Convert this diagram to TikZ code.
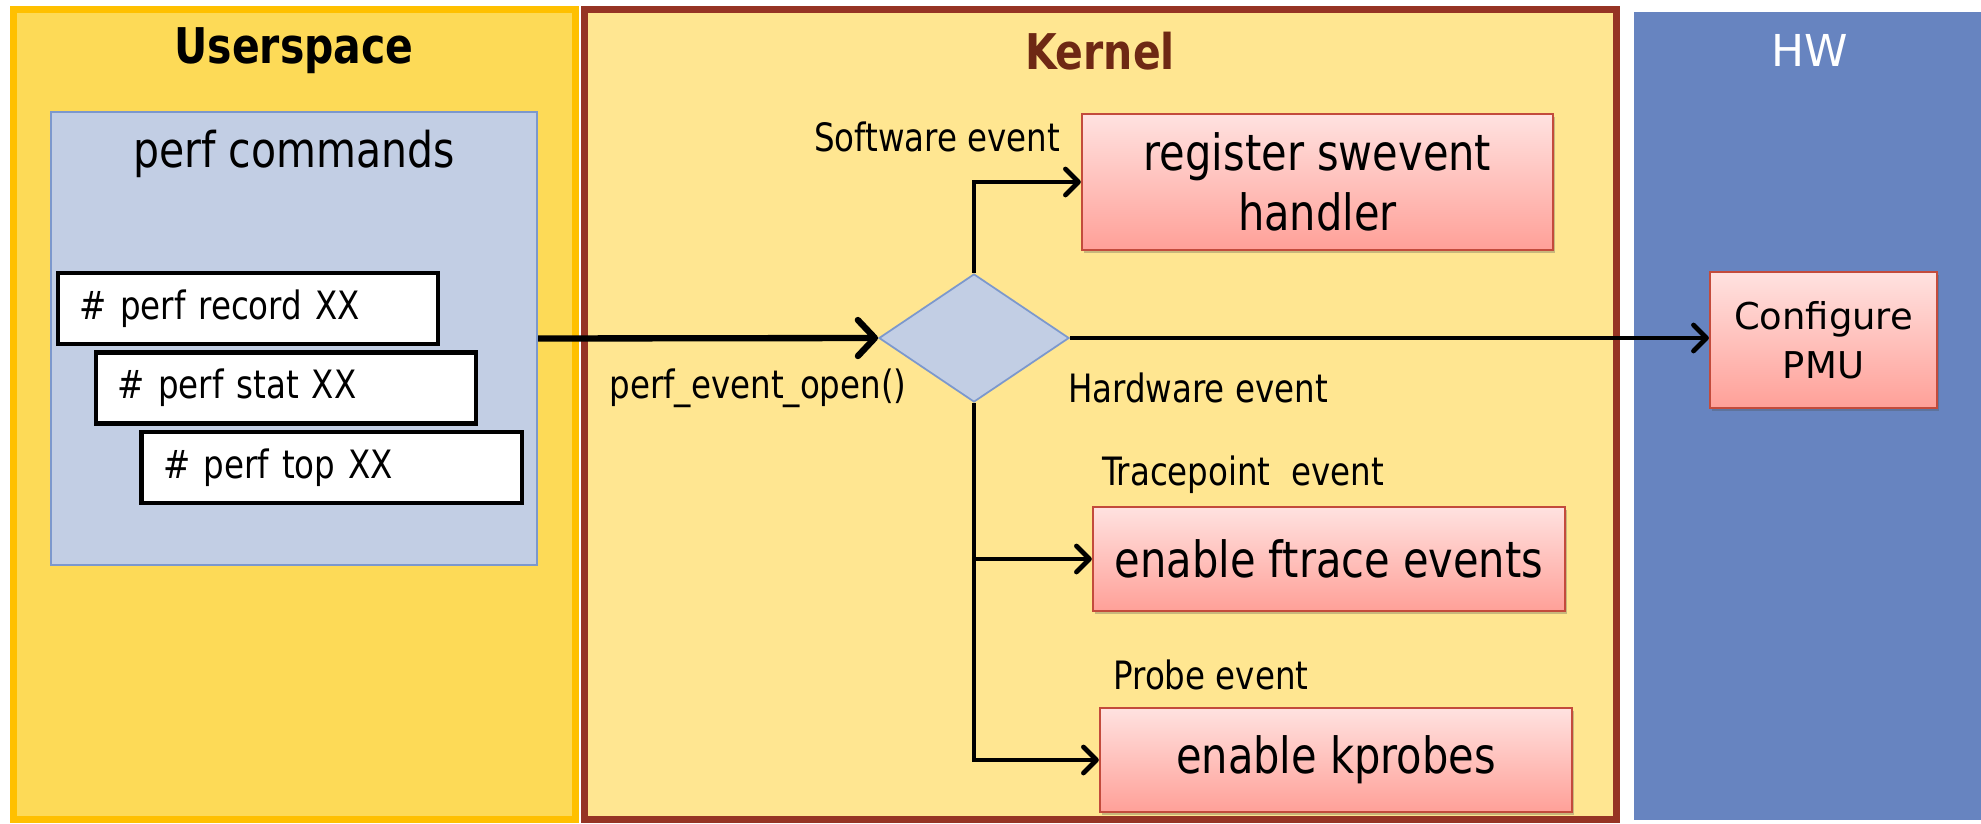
\documentclass[tikz,border=0pt]{standalone}
\usepackage{fontspec}
\setmainfont{DejaVu Sans Condensed}[FakeStretch=0.925]
\newfontfamily\verd{DejaVu Sans}
\usetikzlibrary{arrows.meta,shapes.geometric,shadows}
\definecolor{usrfill}{RGB}{253,218,87}
\definecolor{usrline}{RGB}{255,192,0}
\definecolor{krnfill}{RGB}{255,230,145}
\definecolor{krnline}{RGB}{150,52,36}
\definecolor{krntext}{RGB}{110,40,20}
\definecolor{hwfill}{RGB}{103,132,192}
\definecolor{cmdfill}{RGB}{194,206,228}
\definecolor{cmdline}{RGB}{124,152,205}
\definecolor{redtop}{RGB}{255,226,224}
\definecolor{redbot}{RGB}{255,160,152}
\definecolor{redline}{RGB}{195,75,60}
\begin{document}
\begin{tikzpicture}[x=0.01cm,y=-0.01cm,
  panel/.style={draw, line width=2pt, inner sep=0, outer sep=0},
  title/.style={font=\fontsize{14}{16}\selectfont\bfseries, inner sep=0},
  cmdbox/.style={draw=black, line width=1.2pt, fill=white, inner xsep=0.22cm, inner ysep=0,
     text width=3.36cm, minimum height=0.71cm, align=left, font=\fontsize{11.1}{13}\selectfont},
  evbox/.style={draw=redline, line width=0.6pt, top color=redtop, bottom color=redbot,
     align=center, inner sep=0,
     drop shadow={shadow xshift=0.02cm, shadow yshift=-0.03cm, opacity=0.3, fill=black!70}},
  bigtxt/.style={font=\fontsize{14.2}{17}\selectfont},
  lbl/.style={font=\fontsize{11.1}{13}\selectfont, inner sep=0},
  mainflow/.style={line width=1.8pt, -{Straight Barb[length=0.17cm, width=0.36cm, round]}},
  flow/.style={line width=1.35pt, -{Straight Barb[length=0.13cm, width=0.26cm, round]}}]
\useasboundingbox (0,0) rectangle (1981,824);
\fill[white] (0,0) rectangle (1981,824);
% panels
\node[panel, draw=usrline, fill=usrfill, minimum width=5.62cm, minimum height=8.10cm] (usr) at (294.5,414.5) {};
\node[panel, draw=krnline, fill=krnfill, minimum width=10.32cm, minimum height=8.10cm] (krn) at (1100.5,414.5) {};
\node[fill=hwfill, minimum width=3.47cm, minimum height=8.08cm, inner sep=0, outer sep=0] (hw) at (1807.5,416) {};
\node[title] (usrt) at (294,51) {Userspace};
\node[title, text=krntext] (krnt) at (1100,51) {Kernel};
\node[font=\verd\fontsize{12.5}{14}\selectfont, text=white, inner sep=0] (hwt) at (1810,50) {HW};
% userspace
\node[draw=cmdline, fill=cmdfill, line width=0.5pt, minimum width=4.86cm, minimum height=4.53cm, inner sep=0] (cmds) at (294,338.5) {};
\node[font=\fontsize{14}{16}\selectfont, inner sep=0] (cmdt) at (294,154) {perf commands};
\node[cmdbox] (rec) at (248,308.5) {\# perf record XX};
\node[cmdbox] (stat) at (286,388) {\# perf stat XX};
\node[cmdbox] (ctop) at (331.5,467.5) {\# perf top XX};
% kernel
\node[diamond, draw=cmdline, fill=cmdfill, line width=0.5pt, minimum width=1.90cm, minimum height=1.28cm, inner sep=0, aspect=1.48] (dia) at (974,338) {};
\node[evbox, bigtxt, minimum width=4.71cm, minimum height=1.36cm] (reg) at (1317.5,182) {register swevent\\handler};
\node[evbox, bigtxt, minimum width=4.72cm, minimum height=1.04cm] (ftr) at (1329,559) {enable ftrace events};
\node[evbox, bigtxt, minimum width=4.72cm, minimum height=1.04cm] (kpr) at (1336,760) {enable kprobes};
\node[evbox, font=\verd\fontsize{10.5}{14}\selectfont, minimum width=2.27cm, minimum height=1.36cm] (pmu) at (1823.5,340) {Configure\\PMU};
% labels
\node[lbl] (lsw) at (937,137) {Software event};
\node[lbl] (lpeo) at (758,388) {perf\_event\_open()};
\node[lbl] (lhw) at (1198,388) {Hardware event};
\node[lbl] (ltp) at (1243,475) {Tracepoint\ \ event};
\node[lbl] (lpr) at (1211,675) {Probe event};
% connectors
\draw[mainflow] (cmds.east) -- (dia.west);
\draw[flow] (dia.north) |- (reg.west);
\draw[flow] (dia.east) -- (dia.east -| pmu.west);
\draw[flow] (dia.south) |- (ftr.west);
\draw[flow] (dia.south) |- (kpr.west);
\end{tikzpicture}
\end{document}
